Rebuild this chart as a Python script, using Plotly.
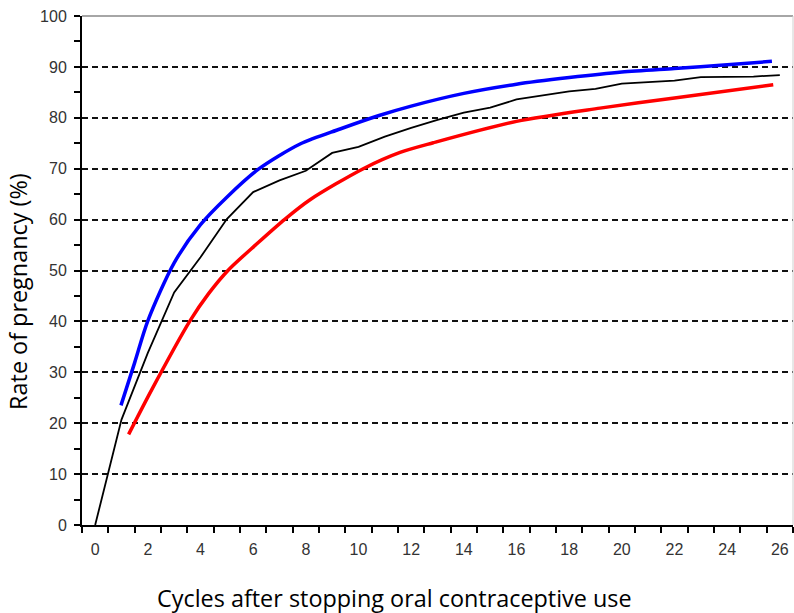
import plotly.graph_objects as go

# Observed pregnancy rate (black, stepwise curve) by cycle
cycles = list(range(0, 27))
observed = [0, 20.7, 33.8, 45.7, 52.6, 60.1, 65.4, 67.7, 69.6, 73.1, 74.3, 76.3, 78.0,
            79.6, 81.0, 82.0, 83.6, 84.4, 85.2, 85.7, 86.7, 87.0, 87.3, 88.0, 88.1, 88.1, 88.4]

# Upper fitted curve (blue)
blue_x = [0.98, 1.5, 2.0, 3.0, 4.0, 5.0, 6.2, 7.8, 9.3, 10.75, 12.0, 14.0, 16.0,
          18.0, 20.0, 22.0, 24.0, 25.7]
blue_y = [23.5, 31.9, 40.1, 51.5, 59.0, 64.4, 69.9, 74.9, 77.8, 80.4, 82.3, 84.8,
          86.6, 87.9, 89.0, 89.7, 90.4, 91.1]

# Lower fitted curve (red)
red_x = [1.27, 2.15, 3.6, 4.3, 5.06, 6.13, 7.21, 8.16, 10.18, 11.58, 12.84, 16.0, 19.17,
         22.0, 25.75]
red_y = [17.8, 26.6, 40.1, 45.4, 50.1, 55.2, 60.1, 63.9, 70.0, 73.2, 75.1, 79.3, 81.9,
         83.9, 86.5]

x_tick_vals = list(range(0, 27, 2))
y_tick_vals = list(range(0, 101, 10))

x_title = "Cycles after stopping oral contraceptive use"
y_title = "Rate of pregnancy (%)"

fig = go.Figure()
fig.add_trace(go.Scatter(x=cycles, y=observed, mode="lines",
                         line=dict(color="black", width=1.8), showlegend=False))
fig.add_trace(go.Scatter(x=blue_x, y=blue_y, mode="lines",
                         line=dict(color="#0000FF", width=3.5, shape="spline", smoothing=0.8),
                         showlegend=False))
fig.add_trace(go.Scatter(x=red_x, y=red_y, mode="lines",
                         line=dict(color="#FF0000", width=3.5, shape="spline", smoothing=0.8),
                         showlegend=False))

tick_font = dict(family="Liberation Sans, Arial, sans-serif", size=16, color="#333333")
title_font = dict(family="Open Sans, sans-serif", size=23.4, color="black")

fig.update_layout(
    width=794, height=613,
    margin=dict(l=82, r=1, t=16, b=88),
    paper_bgcolor="white", plot_bgcolor="white",
    showlegend=False,
    xaxis=dict(
        range=[-0.5, 26.5], automargin=False,
        tickmode="array", tickvals=x_tick_vals, ticktext=[str(v) for v in x_tick_vals],
        ticks="outside", ticklen=6, tickcolor="rgba(0,0,0,0)",
        ticklabelstandoff=3,
        minor=dict(tickmode="linear", tick0=-0.5, dtick=1, ticks="outside", ticklen=6,
                   tickcolor="black", tickwidth=1.5, showgrid=False),
        showline=True, linecolor="black", linewidth=2,
        showgrid=False, zeroline=False,
        tickfont=tick_font,
    ),
    yaxis=dict(
        range=[0, 100], automargin=False,
        tickmode="array", tickvals=y_tick_vals,
        ticks="outside", ticklen=6, tickcolor="black", tickwidth=1.5,
        ticklabelstandoff=4,
        minor=dict(tickmode="linear", tick0=0, dtick=5, ticks="outside", ticklen=6,
                   tickcolor="black", tickwidth=1.5, showgrid=False),
        showline=True, linecolor="black", linewidth=2,
        showgrid=True, gridcolor="#111111", gridwidth=1.5, griddash="6px,4px",
        zeroline=False,
        tickfont=tick_font,
    ),
    shapes=[
        dict(type="line", xref="x domain", yref="y domain", x0=0, x1=1, y0=1, y1=1,
             line=dict(color="#A6A6A6", width=2), layer="above"),
        dict(type="line", xref="x domain", yref="y domain", x0=1, x1=1, y0=0, y1=1,
             line=dict(color="#D0D0D0", width=1), layer="above"),
    ],
    annotations=[
        dict(text=x_title, xref="paper", yref="paper", x=0.439, y=-0.1436,
             xanchor="center", yanchor="middle", showarrow=False, font=title_font),
        dict(text=y_title, xref="paper", yref="paper", x=-0.09, y=0.458,
             xanchor="center", yanchor="middle", showarrow=False, textangle=-90,
             font=title_font),
    ],
)

fig.write_html("out.html", config={"displayModeBar": False},
               post_script="document.body.style.margin='0';document.body.style.overflow='hidden';")
